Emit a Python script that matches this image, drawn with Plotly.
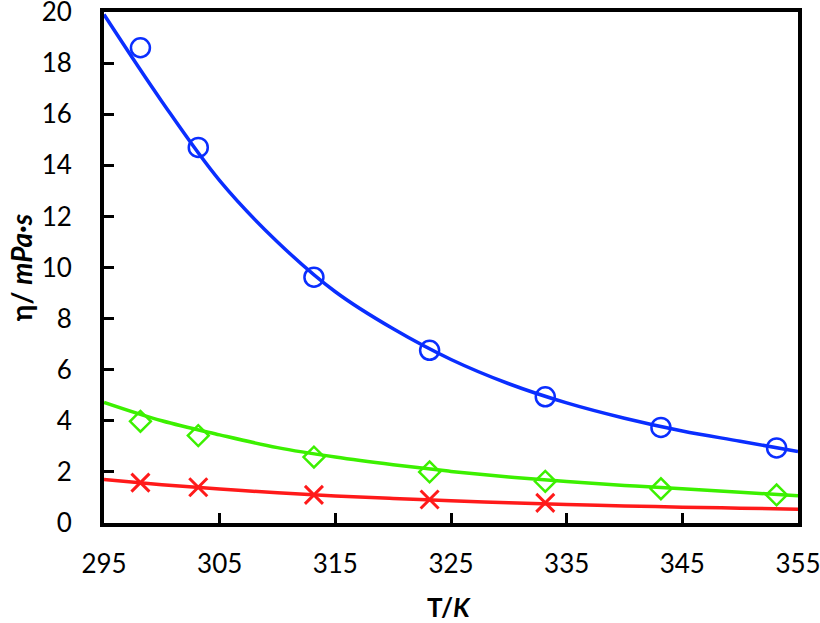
import plotly.graph_objects as go

# ── Datos experimentales ───────────────────────────────────────────────
T_EXP = [298.15, 303.15, 313.15, 323.15, 333.15, 343.15, 353.15]
ETA_AZUL = [18.6, 14.7, 9.62, 6.76, 4.94, 3.74, 2.94]
ETA_VERDE = [3.98, 3.42, 2.58, 2.0, 1.63, 1.34, 1.1]
T_ROJO = [298.15, 303.15, 313.15, 323.15, 333.15]
ETA_ROJO = [1.58, 1.4, 1.1, 0.92, 0.79]

# ── Curvas ajustadas ───────────────────────────────────────────────────
T_FIT = [295, 300, 305, 310, 315, 320, 325, 330, 335, 340, 345, 350, 355]
FIT_AZUL = [19.9, 16.5, 13.4, 11.0, 9.05, 7.6, 6.4, 5.45, 4.7, 4.1, 3.6, 3.2, 2.8]
FIT_VERDE = [4.72, 4.0, 3.45, 2.95, 2.58, 2.28, 2.02, 1.8, 1.62, 1.47, 1.34, 1.2, 1.07]
FIT_ROJO = [1.70, 1.5, 1.33, 1.18, 1.06, 0.96, 0.87, 0.79, 0.72, 0.67, 0.62, 0.58, 0.54]

AZUL = "#0A2EFF"
VERDE = "#3CF000"
ROJO = "#FF1A1A"
FUENTE = "Lato, Open Sans, sans-serif"

fig = go.Figure()

for y, color in [(FIT_AZUL, AZUL), (FIT_VERDE, VERDE), (FIT_ROJO, ROJO)]:
    fig.add_trace(go.Scatter(
        x=T_FIT, y=y, mode="lines", line=dict(color=color, width=3.5, shape="spline"),
        showlegend=False,
    ))

fig.add_trace(go.Scatter(
    x=T_EXP, y=ETA_AZUL, mode="markers", showlegend=False,
    marker=dict(symbol="circle-open", size=19, color=AZUL, line=dict(width=2.5, color=AZUL)),
))
fig.add_trace(go.Scatter(
    x=T_EXP, y=ETA_VERDE, mode="markers", showlegend=False,
    marker=dict(symbol="diamond-open", size=16, color=VERDE, line=dict(width=2.5, color=VERDE)),
))
fig.add_trace(go.Scatter(
    x=T_ROJO, y=ETA_ROJO, mode="markers", showlegend=False,
    marker=dict(symbol="x-thin-open", size=18, color=ROJO, line=dict(width=3, color=ROJO)),
))

eje = dict(
    showgrid=False, zeroline=False, showline=True, linecolor="black", linewidth=4,
    mirror=True, ticks="inside", ticklen=10, tickwidth=3, tickcolor="black",
    tickfont=dict(family=FUENTE, size=26, color="black"), automargin=False,
    ticklabeloverflow="allow",
)

fig.update_layout(
    width=820, height=623,
    paper_bgcolor="white", plot_bgcolor="white",
    margin=dict(l=104, r=22, t=12, b=100),
    font=dict(family=FUENTE, color="black"),
    xaxis=dict(
        **eje, range=[295, 355], tickvals=[295, 305, 315, 325, 335, 345, 355],
        ticklabelstandoff=15,
    ),
    yaxis=dict(**eje, range=[0, 20], dtick=2, ticklabelstandoff=23),
    annotations=[
        dict(text="<b>T/<i>K</i></b>", xref="paper", yref="paper", x=0.497, y=-0.164,
             xanchor="center", yanchor="middle", showarrow=False,
             font=dict(family=FUENTE, size=26, color="black")),
        dict(text="<b>η/ <i>mPa·s</i></b>", xref="paper", yref="paper", x=-0.12, y=0.5,
             xanchor="center", yanchor="middle", showarrow=False, textangle=-90,
             font=dict(family=FUENTE, size=28, color="black")),
    ],
)

# sin el margen por defecto del body, la figura ocupa toda la ventana
fig.write_html("out.html", config={"displayModeBar": False},
               post_script="document.body.style.margin='0';")
